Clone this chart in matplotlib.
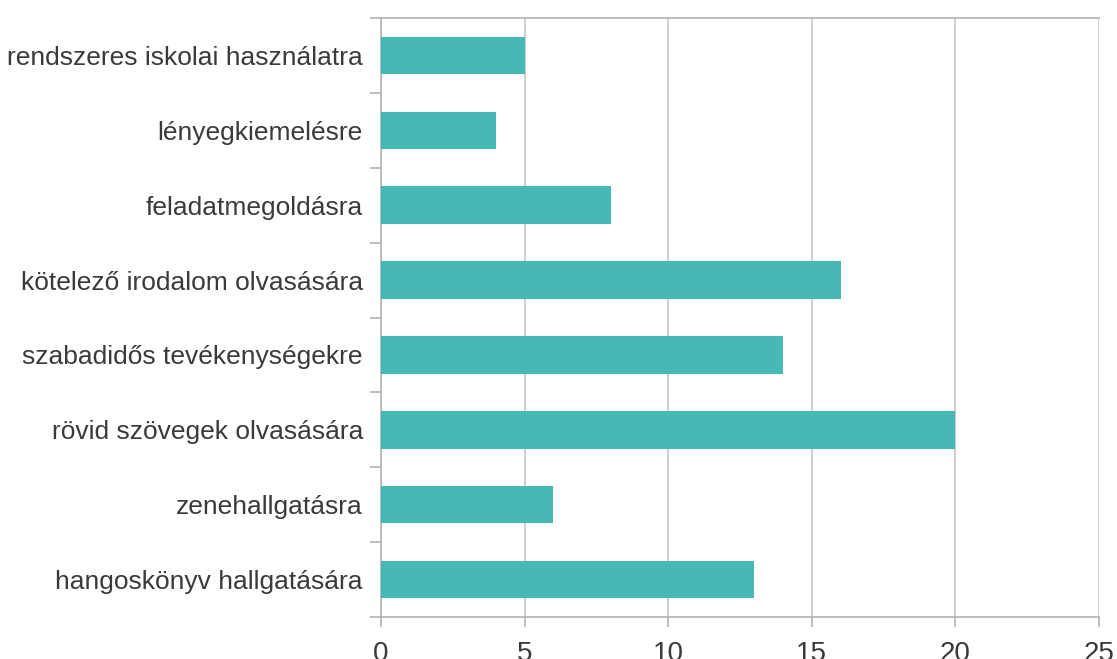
import matplotlib.pyplot as plt
import numpy as np

categories = [
    "rendszeres iskolai használatra",
    "lényegkiemelésre",
    "feladatmegoldásra",
    "kötelező irodalom olvasására",
    "szabadidős tevékenységekre",
    "rövid szövegek olvasására",
    "zenehallgatásra",
    "hangoskönyv hallgatására",
]
values = [5, 4, 8, 16, 14, 20, 6, 13]
xticks = [0, 5, 10, 15, 20, 25]

plt.rcParams['font.family'] = ['Liberation Sans', 'DejaVu Sans']

fig = plt.figure(figsize=(11.17, 6.59), dpi=100)
ax = fig.add_axes([381 / 1117, 1 - 617 / 659, (1099 - 381) / 1117, (617 - 18) / 659])

y = np.arange(len(categories))
ax.barh(y, values, height=0.5, color='#46b8b6', zorder=3)
ax.set_ylim(len(categories) - 0.5, -0.5)
ax.set_xlim(0, 25)

grid_c = '#c6c6c6'
spine_c = '#b3b3b3'
text_c = '#3a3a3a'
ax.set_xticks(xticks)
ax.set_xticklabels([str(t) for t in xticks], fontsize=20, color=text_c)
ax.xaxis.grid(True, color=grid_c, linewidth=1.2, zorder=0)
ax.tick_params(axis='x', length=7.5, width=1.2, color=spine_c, pad=10)

ax.set_yticks(y)
ax.set_yticklabels(categories, fontsize=19, color=text_c)
ax.set_yticks(np.arange(len(categories) + 1) - 0.5, minor=True)
ax.tick_params(axis='y', which='major', length=0, pad=13)
ax.tick_params(axis='y', which='minor', length=8, width=1.2, color=spine_c)

for s in ['left', 'bottom', 'top']:
    ax.spines[s].set_color(spine_c)
    ax.spines[s].set_linewidth(1.2)
ax.spines['right'].set_visible(False)

fig.savefig('out.png', dpi=100)
